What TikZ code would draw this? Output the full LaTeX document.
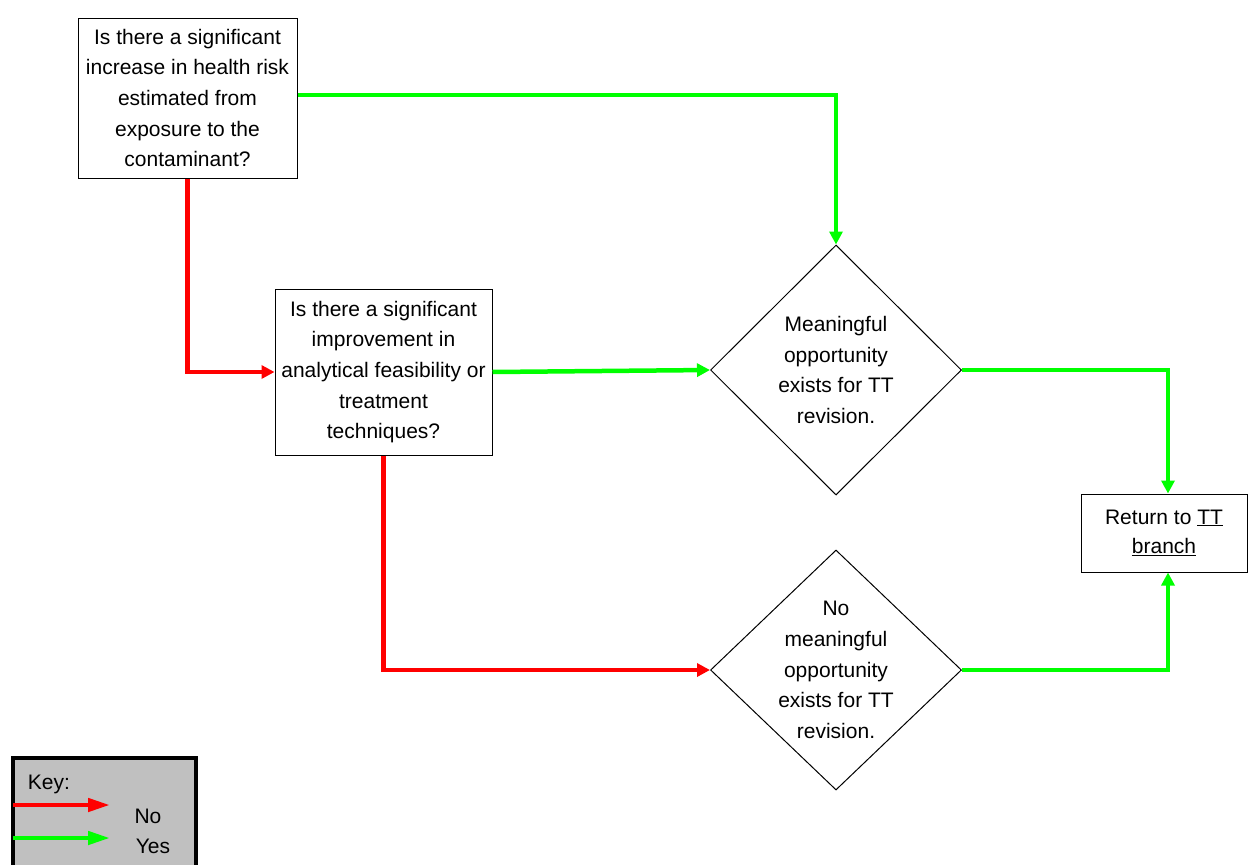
\documentclass[tikz,border=0pt]{standalone}
\usepackage{fontspec}
\setmainfont{Liberation Sans}
\usetikzlibrary{shapes.geometric,arrows.meta}
\definecolor{nored}{RGB}{255,0,0}
\definecolor{yesgreen}{RGB}{0,255,0}
\definecolor{keygray}{RGB}{192,192,192}
\begin{document}
\begin{tikzpicture}[x=1pt, y=-1pt, font=\fontsize{21}{30.7}\selectfont, >={Triangle[length=13pt,width=13pt]},
	box/.style={draw, line width=1pt, align=center, inner sep=0pt},
	decision/.style={draw, diamond, line width=1pt, inner sep=0pt, minimum width=251pt},
	no/.style={draw=nored, line width=4.5pt, ->},
	yes/.style={draw=yesgreen, line width=4.5pt, ->}]
	\clip (0,0) rectangle (1248,865);
	\node[box, minimum width=219pt, minimum height=160pt] (risk) at (187.5,98) {Is there a significant\\increase in health risk\\estimated from\\exposure to the\\contaminant?};
	\node[box, minimum width=217pt, minimum height=166pt] (improve) at (383.5,372) {Is there a significant\\improvement in\\analytical feasibility or\\treatment\\techniques?};
	\node[decision, minimum height=250pt, label={[align=center]center:Meaningful\\opportunity\\exists for TT\\revision.}] (opp) at (836,370) {};
	\node[decision, minimum height=240pt, label={[align=center]center:No\\meaningful\\opportunity\\exists for TT\\revision.}] (noopp) at (836,670) {};
	\node[box, minimum width=166pt, minimum height=78pt] (ret) at (1164,533) {\raisebox{-3pt}{\begin{tabular}{@{}c@{}}Return to \underline{TT}\\[-1pt]\underline{branch}\end{tabular}}};
	% connectors
	\draw[yes] ([yshift=3pt]risk.east) -| (opp.north);
	\draw[no] (risk.south) |- (improve.west);
	\draw[yes] (improve.east) -- (opp.west);
	\draw[no] (improve.south) |- (noopp.west);
	\draw[yes] (opp.east) -| ([xshift=4pt]ret.north);
	\draw[yes] (noopp.east) -| ([xshift=4pt]ret.south);
	% key
	\draw[line width=4pt, fill=keygray] (13,758) rectangle (196,890);
	\node (keytxt) at (49,784) {Key:};
	\node (notxt) at (148,816) {No};
	\node (yestxt) at (153,846) {Yes};
	\coordinate (nostart) at (13,805);
	\coordinate (noend) at (110,805);
	\coordinate (yesstart) at (13,838);
	\coordinate (yesend) at (110,838);
	\draw[no, -{Triangle[length=22pt,width=13pt]}] (nostart) -- (noend);
	\draw[yes, -{Triangle[length=22pt,width=13pt]}] (yesstart) -- (yesend);
\end{tikzpicture}
\end{document}
